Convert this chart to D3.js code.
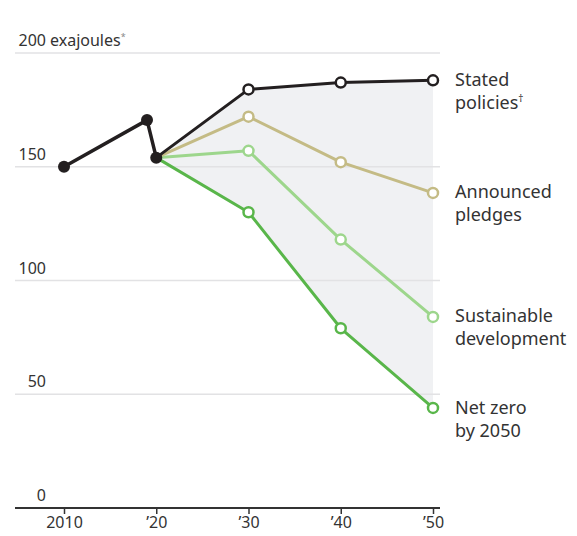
<!DOCTYPE html>
<html>
<head>
<meta charset="utf-8">
<script src="https://cdn.jsdelivr.net/npm/d3@7"></script>
<style>
  body { margin: 0; background: #fff; }
  text { font-family: "Noto Sans", sans-serif; fill: #333; }
</style>
</head>
<body>
<div id="chart"></div>
<script>
// Energy demand scenarios, exajoules
const history = [
  { year: 2010, value: 150 },
  { year: 2019, value: 170.5 },
  { year: 2020, value: 154 }
];
const years = [2020, 2030, 2040, 2050];
const stated = [154, 184, 187, 188];
const announced = [154, 172, 152, 138.5];
const sustainable = [154, 157, 118, 84];
const netZero = [154, 130, 79, 44];

const yTicks = [0, 50, 100, 150, 200];
const xTicks = [2010, 2020, 2030, 2040, 2050];
const xTickLabels = ["2010", "\u201920", "\u201930", "\u201940", "\u201950"];

const scenarios = [
  { name: ["Stated", "policies"], sup: "\u2020", values: stated, color: "#231f20", labelY: 86 },
  { name: ["Announced", "pledges"], values: announced, color: "#c4bb85", labelY: 198 },
  { name: ["Sustainable", "development"], values: sustainable, color: "#9dd68c", labelY: 322 },
  { name: ["Net zero", "by 2050"], values: netZero, color: "#59b64a", labelY: 414 }
];

const width = 577, height = 536;

const x = d3.scaleLinear().domain([2010, 2050]).range([64, 433]);
const y = d3.scaleLinear().domain([0, 200]).range([508, 53]);

const svg = d3.select("#chart")
  .append("svg")
    .attr("width", width)
    .attr("height", height);

// shaded range between highest and lowest scenario
const area = d3.area()
  .x((d, i) => x(years[i]))
  .y0((d, i) => y(netZero[i]))
  .y1((d, i) => y(stated[i]));

svg.append("path")
  .datum(years)
  .attr("fill", "#f0f1f3")
  .attr("d", area);

// gridlines
svg.append("g")
  .selectAll("line")
  .data(yTicks.filter(d => d > 0))
  .enter().append("line")
    .attr("x1", 15)
    .attr("x2", 440)
    .attr("y1", d => y(d))
    .attr("y2", d => y(d))
    .attr("stroke", "#e2e2e4")
    .attr("stroke-width", 1.5);

// y labels
svg.append("g")
  .selectAll("text")
  .data(yTicks)
  .enter().append("text")
    .attr("x", 46)
    .attr("y", d => y(d) - 7)
    .attr("text-anchor", "end")
    .style("font-size", "16px")
    .text(d => d);

svg.append("text")
  .attr("x", 50)
  .attr("y", y(200) - 7)
  .style("font-size", "16px")
  .text("exajoules")
  .append("tspan")
    .attr("dy", -6)
    .style("font-size", "9px")
    .attr("fill", "#888")
    .text("*");

// x axis
const xAxis = svg.append("g")
  .attr("transform", `translate(0,${y(0)})`)
  .call(d3.axisBottom(x)
    .tickValues(xTicks)
    .tickFormat((d, i) => xTickLabels[i])
    .tickSize(6)
    .tickPadding(3));

xAxis.select(".domain").remove();
xAxis.selectAll(".tick line").attr("stroke", "#333").attr("stroke-width", 1.5);
xAxis.selectAll(".tick text")
  .style("font-family", "Noto Sans, sans-serif")
  .style("font-size", "16px")
  .attr("fill", "#333");

svg.append("line")
  .attr("x1", 15)
  .attr("x2", 440)
  .attr("y1", y(0))
  .attr("y2", y(0))
  .attr("stroke", "#333")
  .attr("stroke-width", 2);

const line = d3.line()
  .x((d, i) => x(years[i]))
  .y(d => y(d));

// scenario lines, bottom first
scenarios.slice().reverse().forEach(s => {
  svg.append("path")
    .datum(s.values)
    .attr("fill", "none")
    .attr("stroke", s.color)
    .attr("stroke-width", 3)
    .attr("stroke-linejoin", "round")
    .attr("d", line);
});

// history line
svg.append("path")
  .datum(history)
  .attr("fill", "none")
  .attr("stroke", "#231f20")
  .attr("stroke-width", 3.5)
  .attr("stroke-linejoin", "round")
  .attr("d", d3.line().x(d => x(d.year)).y(d => y(d.value)));

// open markers
scenarios.slice().reverse().forEach(s => {
  svg.append("g")
    .selectAll("circle")
    .data(s.values.slice(1))
    .enter().append("circle")
      .attr("cx", (d, i) => x(years[i + 1]))
      .attr("cy", d => y(d))
      .attr("r", 5)
      .attr("fill", "#fff")
      .attr("stroke", s.color)
      .attr("stroke-width", 2.5);
});

// history markers
svg.append("g")
  .selectAll("circle")
  .data(history)
  .enter().append("circle")
    .attr("cx", d => x(d.year))
    .attr("cy", d => y(d.value))
    .attr("r", 6)
    .attr("fill", "#231f20");

// right labels
scenarios.forEach(s => {
  const t = svg.append("text")
    .attr("x", 455)
    .attr("y", s.labelY)
    .style("font-size", "18px");
  t.append("tspan").text(s.name[0]);
  t.append("tspan").attr("x", 455).attr("dy", 22.5).text(s.name[1]);
  if (s.sup) {
    t.append("tspan").attr("dy", -7).style("font-size", "10px").text(s.sup);
  }
});
</script>
</body>
</html>
